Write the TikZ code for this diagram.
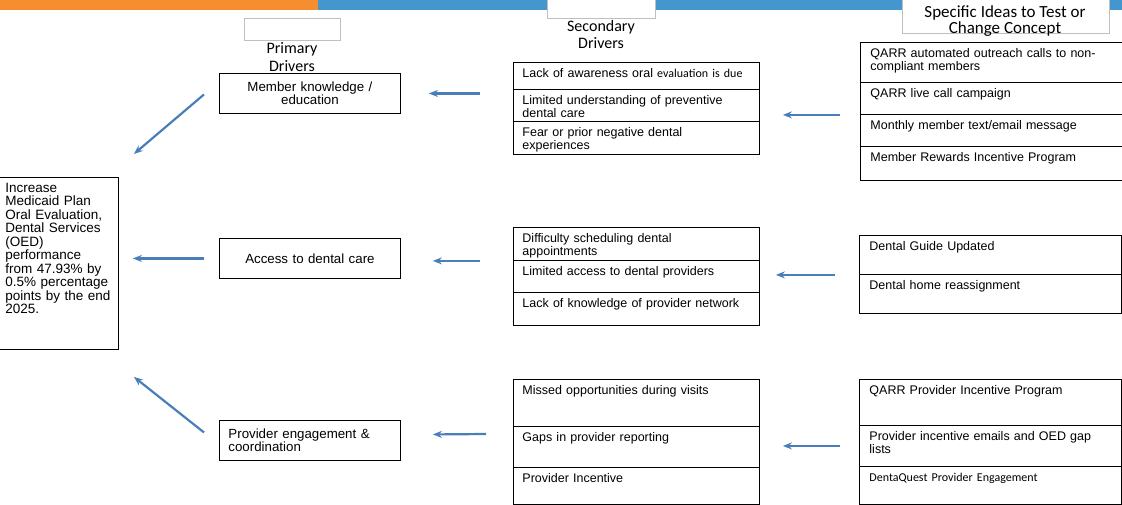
\documentclass[tikz,border=0pt]{standalone}
\usepackage{fontspec}
\setmainfont{Liberation Sans}
\newfontfamily\calibri{Carlito}
\usetikzlibrary{arrows.meta}

\definecolor{barorange}{HTML}{F68E2F}
\definecolor{barblue}{HTML}{4397CC}
\definecolor{arrowblue}{HTML}{4A7EBB}
\definecolor{headgray}{HTML}{BFBFBF}

\newcommand{\rowfont}{\fontsize{12.5pt}{13.3pt}\selectfont}
\newcommand{\goalfont}{\fontsize{13.5pt}{13.5pt}\selectfont}
\newcommand{\headfont}{\calibri\fontsize{16pt}{17.5pt}\selectfont}
\newcommand{\smallcal}{\calibri\fontsize{12pt}{13pt}\selectfont}

\tikzstyle{srow} = [draw, line width=0.9pt, anchor=north west, inner xsep=9pt, inner ysep=2pt, text width=228pt, align=left, text height=13pt, font=\rowfont]
\tikzstyle{irow} = [srow, inner xsep=10pt, text width=242pt]
\tikzstyle{prim} = [draw, line width=0.9pt, anchor=north west, minimum width=181pt, minimum height=40pt, inner xsep=9pt, text width=163pt, font=\fontsize{13.3pt}{13.5pt}\selectfont]
\tikzstyle{head} = [draw=headgray, line width=0.8pt, fill=white, anchor=north west, inner sep=0pt]
\tikzstyle{flow} = [draw=arrowblue, line width=2.2pt, -{Stealth[length=9pt,width=7pt]}]

\begin{document}
\begin{tikzpicture}[x=1pt, y=-1pt]
\useasboundingbox (0,0) rectangle (1122,505);
%top bar
\fill[barorange] (0,0) rectangle (318,10);
\fill[barblue] (318,0) rectangle (1122,10);
%begin headers
\node[head, minimum width=96pt, minimum height=22pt] (primhead) at (244,18) {};
\node[font=\headfont, align=center] (primlab) at (292,57) {Primary\\Drivers};
\node[head, minimum width=108pt, minimum height=19pt] (sechead) at (547,-1) {};
\node[font=\headfont, align=center] (seclab) at (601,34.5) {Secondary\\Drivers};
\node[head, minimum width=207pt, minimum height=34pt] (ideahead) at (902,-1) {};
\node[font=\calibri\fontsize{17pt}{16pt}\selectfont, align=center] (idealab) at (1005,21.5) {Specific Ideas to Test or\\Change Concept};
%end headers
%aim
\node[draw, line width=0.9pt, anchor=north west, inner xsep=6pt, inner ysep=2pt, text width=107pt, align=left, text height=13pt, text depth=155pt, font=\goalfont] (goal) at (-1,177)
    {Increase\\Medicaid Plan\\Oral Evaluation,\\Dental Services\\(OED)\\performance\\from 47.93\% by\\0.5\% percentage\\points by the end\\2025.};
%begin primary drivers
\node[prim, align=center] (mem) at (219,73) {Member knowledge /\\education};
\node[prim, align=center] (acc) at (219,238) {Access to dental care};
\node[prim, align=left] (prov) at (219,420) {Provider engagement \&\\coordination};
%end primary drivers
%begin secondary-member
\node[srow, text depth=10pt] (s1a) at (513,62) {Lack of awareness oral {\smallcal evaluation is due}};
\node[srow, text depth=15pt] (s1b) at (513,89) {Limited understanding of preventive\\dental care};
\node[srow, text depth=16pt] (s1c) at (513,121) {Fear or prior negative dental\\experiences};
%end secondary-member
%begin secondary-access
\node[srow, text depth=16pt] (s2a) at (513,227) {Difficulty scheduling dental\\appointments};
\node[srow, text depth=15pt] (s2b) at (513,260) {Limited access to dental providers};
\node[srow, text depth=16pt] (s2c) at (513,292) {Lack of knowledge of provider network};
%end secondary-access
%begin secondary-provider
\node[srow, text depth=30pt] (s3a) at (513,379) {Missed opportunities during visits};
\node[srow, text depth=24pt] (s3b) at (513,426) {Gaps in provider reporting};
\node[srow, text depth=20pt] (s3c) at (513,467) {Provider Incentive};
%end secondary-provider
%begin ideas-member
\node[irow, text depth=23pt] (i1a) at (860,42) {QARR automated outreach calls to non-\\compliant members};
\node[irow, text depth=15pt] (i1b) at (860,82) {QARR live call campaign};
\node[irow, text depth=15pt] (i1c) at (860,114) {Monthly member text/email message};
\node[irow, text depth=17pt] (i1d) at (860,146) {Member Rewards Incentive Program};
%end ideas-member
%begin ideas-access
\node[irow, text depth=22pt] (i2a) at (859,235) {Dental Guide Updated};
\node[irow, text depth=22pt] (i2b) at (859,274) {Dental home reassignment};
%end ideas-access
%begin ideas-provider
\node[irow, text depth=29pt] (i3a) at (859,379) {QARR Provider Incentive Program};
\node[irow, text depth=24pt] (i3b) at (859,425) {Provider incentive emails and OED gap\\lists};
\node[irow, text depth=21pt] (i3c) at (859,466) {\smallcal DentaQuest Provider Engagement};
%end ideas-provider
%begin arrows
\draw[flow] ([shift={(-15,1)}]mem.west) -- ([shift={(15,-23)}]goal.north east);
\draw[flow, shorten <=15pt, shorten >=14pt] (acc.west) -- (acc.west -| goal.east);
\draw[flow] ([shift={(-15,-8)}]prov.west) -- ([shift={(15,27)}]goal.south east);
\draw[flow, shorten <=33pt, shorten >=28pt] (s1a.west |- mem.east) -- (mem.east);
\draw[flow, shorten <=33pt, shorten >=32pt] (s2a.south west) -- (s2a.south west -| acc.east);
\draw[flow] ([shift={(-27,8)}]s3b.north west) -- ([shift={(32,-6)}]prov.east);
\draw[flow, shorten <=20pt, shorten >=23pt] (i1b.south west) -- (i1b.south west -| s1b.east);
\draw[flow, shorten <=24pt, shorten >=16pt] (i2a.south west) -- (i2a.south west -| s2a.east);
\draw[flow, shorten <=19pt, shorten >=23pt] (i3b.west) -- (i3b.west -| s3b.east);
%end arrows
\end{tikzpicture}
\end{document}
